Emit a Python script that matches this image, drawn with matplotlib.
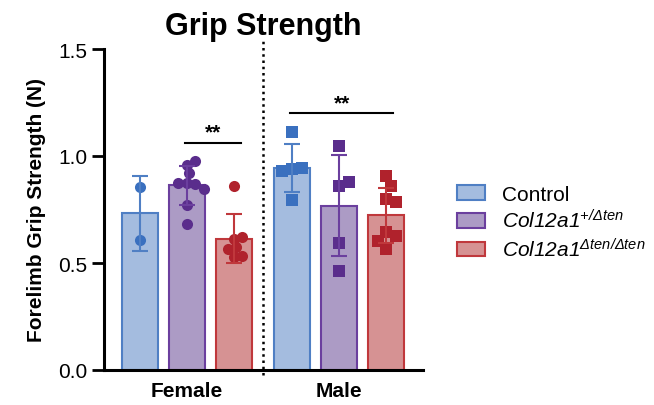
import numpy as np
import matplotlib
matplotlib.use("Agg")
import matplotlib.pyplot as plt
from matplotlib.patches import Patch

plt.rcParams['font.family'] = ['Liberation Sans', 'DejaVu Sans']
plt.rcParams['mathtext.fontset'] = 'custom'
plt.rcParams['mathtext.rm'] = 'Liberation Sans:italic'
plt.rcParams['mathtext.it'] = 'Liberation Sans:italic'
plt.rcParams['mathtext.bf'] = 'Liberation Sans:bold'

# ---------------- data ----------------
sexes = ["Female", "Male"]
genotypes = ["Control", r"$\mathit{Col12a1}^{\mathit{+/Δten}}$", r"$\mathit{Col12a1}^{\mathit{Δten/Δten}}$"]

female_control = [0.854, 0.609]
female_het = [0.958, 0.976, 0.919, 0.872, 0.869, 0.872, 0.846, 0.771, 0.682]
female_hom = [0.861, 0.612, 0.620, 0.573, 0.565, 0.527, 0.534]

male_control = [1.110, 0.940, 0.945, 0.930, 0.795]
male_het = [1.048, 0.858, 0.877, 0.592, 0.464]
male_hom = [0.905, 0.861, 0.799, 0.783, 0.643, 0.628, 0.604, 0.565]

groups = {
    "Female": [female_control, female_het, female_hom],
    "Male": [male_control, male_het, male_hom],
}
significance = ["**", "**"]
yticks = [0.0, 0.5, 1.0, 1.5]

# ---------------- style ----------------
fills = ['#a4bcdf', '#ac9bc5', '#d69293']
edges = ['#4f7fc4', '#6b3f9e', '#c0383c']
marks = ['#3a70bf', '#5a2d8c', '#b0222c']
markers = {'Female': 'o', 'Male': 's'}
msize = {'Female': 8.0, 'Male': 9.0}

W, H = 654, 406
fig = plt.figure(figsize=(W / 100, H / 100), dpi=100)
ax_l, ax_r, ax_t, ax_b = 104, 423, 50, 371
ax = fig.add_axes([ax_l / W, (H - ax_b) / H, (ax_r - ax_l) / W, (ax_b - ax_t) / H])

offset = 0.309
width = 0.237
xlim = (-0.546, 1.553)
ylim = (0, 1.5)
px_x = (ax_r - ax_l) / (xlim[1] - xlim[0])
px_y = (ax_b - ax_t) / (ylim[1] - ylim[0])


def swarm(vals, diam_px):
    dx = diam_px / px_x
    dy = diam_px / px_y
    step = dx * 0.25
    placed = []
    offs = []
    for v in vals:
        k = 0
        while True:
            n = (k + 1) // 2
            cand = n * step * (1 if k % 2 == 1 else -1)
            ok = all(((cand - ox) / dx) ** 2 + ((v - oy) / dy) ** 2 >= 1 for ox, oy in placed)
            if ok:
                break
            k += 1
        placed.append((cand, v))
        offs.append(cand)
    return np.array(offs)


for gi, sex in enumerate(sexes):
    for j, vals in enumerate(groups[sex]):
        vals = np.array(vals)
        x = gi + (j - 1) * offset
        mean = vals.mean()
        sd = vals.std(ddof=1)
        ax.bar(x, mean, width=width, color=fills[j], edgecolor=edges[j], linewidth=1.5, zorder=2)
        offs = swarm(vals, 8.5 if sex == 'Female' else 10)
        ax.plot(x + offs, vals, linestyle='none', marker=markers[sex], ms=msize[sex],
                color=marks[j], markeredgewidth=0, zorder=3)
        ax.errorbar(x, mean, yerr=sd, color=edges[j], capsize=5.5, elinewidth=1.5,
                    capthick=1.5, zorder=4)

# significance bars
sig_y = [1.061, 1.201]
sig_x = [(-0.013, 0.355), (0.678, 1.357)]
for (x0, x1), yv, s in zip(sig_x, sig_y, significance):
    ax.plot([x0, x1], [yv, yv], color='black', lw=1.5, zorder=5)
    ax.text((x0 + x1) / 2, yv + 0.005, s, ha='center', va='bottom', fontsize=15,
            fontweight='bold')

# dotted separator
ax.axvline(0.5, ymin=-0.016, ymax=1.031, color='black', linestyle=(0, (1, 1.5)),
           lw=1.8, clip_on=False, zorder=1)

ax.set_xlim(*xlim)
ax.set_ylim(*ylim)
ax.set_yticks(yticks)
ax.set_yticklabels([f"{t:.1f}" for t in yticks])
ax.set_xticks([0, 1])
ax.set_xticklabels(sexes, fontsize=15, fontweight='bold')
ax.tick_params(axis='x', length=0, pad=8)
ax.tick_params(axis='y', length=9, width=2, labelsize=15, pad=3)
for sp in ['top', 'right']:
    ax.spines[sp].set_visible(False)
for sp in ['left', 'bottom']:
    ax.spines[sp].set_linewidth(2.2)

ax.set_ylabel("Forelimb Grip Strength (N)", fontsize=15, fontweight='bold', labelpad=9)
ax.set_title("Grip Strength", fontsize=22, fontweight='bold', pad=11)

handles = [Patch(facecolor=fills[j], edgecolor=edges[j], linewidth=1.5) for j in range(3)]
fig.legend(handles, genotypes, loc='center left', bbox_to_anchor=(457 / W, (H - 223.5) / H),
           frameon=False, fontsize=15, handlelength=1.35, handleheight=0.7,
           handletextpad=0.8, labelspacing=0.25, borderpad=0, borderaxespad=0)

fig.savefig("out.png", dpi=100)
